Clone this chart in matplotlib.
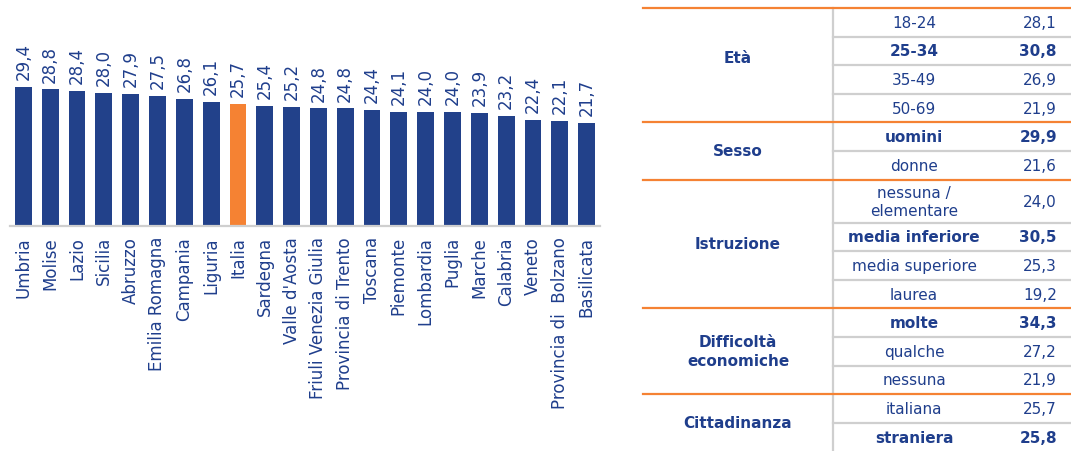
import matplotlib
matplotlib.use("Agg")
import matplotlib.pyplot as plt

plt.rcParams['font.family'] = ['DejaVu Sans']

# dati regionali
regioni = ['Umbria', 'Molise', 'Lazio', 'Sicilia', 'Abruzzo', 'Emilia Romagna',
           'Campania', 'Liguria', 'Italia', 'Sardegna', "Valle d'Aosta",
           'Friuli Venezia Giulia', 'Provincia di Trento', 'Toscana', 'Piemonte',
           'Lombardia', 'Puglia', 'Marche', 'Calabria', 'Veneto',
           'Provincia di  Bolzano', 'Basilicata']
valori = [29.4, 28.8, 28.4, 28.0, 27.9, 27.5, 26.8, 26.1, 25.7, 25.4, 25.2,
          24.8, 24.8, 24.4, 24.1, 24.0, 24.0, 23.9, 23.2, 22.4, 22.1, 21.7]

# tabella per caratteristiche
gruppi = ['Età', 'Sesso', 'Istruzione', 'Difficoltà\neconomiche', 'Cittadinanza']
voci = [['18-24', '25-34', '35-49', '50-69'],
        ['uomini', 'donne'],
        ['nessuna /\nelementare', 'media inferiore', 'media superiore', 'laurea'],
        ['molte', 'qualche', 'nessuna'],
        ['italiana', 'straniera']]
valori_tab = [[28.1, 30.8, 26.9, 21.9],
              [29.9, 21.6],
              [24.0, 30.5, 25.3, 19.2],
              [34.3, 27.2, 21.9],
              [25.7, 25.8]]
grassetto = ['25-34', 'uomini', 'media inferiore', 'molte', 'straniera']

BLU = '#22418A'
TESTO = '#1F3E8C'
ARANCIO = '#F58233'
GRIGIO = '#CFCFCF'

W, H = 1071, 451
fig = plt.figure(figsize=(W / 100, H / 100), dpi=100)

# --- grafico a barre ---
n = len(regioni)
base = 226
scala = 4.74  # px per unità
ymax = 40
ax = fig.add_axes([10 / W, (H - base) / H, 590 / W, ymax * scala / H])
colori = [ARANCIO if r == 'Italia' else BLU for r in regioni]
x = range(n)
bars = ax.bar(x, valori, width=0.63, color=colori)
ax.set_xlim(-0.5, n - 0.5)
ax.set_ylim(0, ymax)
for b, v in zip(bars, valori):
    ax.annotate(f'{v:.1f}'.replace('.', ','), (b.get_x() + b.get_width() / 2, v),
                xytext=(0, 5), textcoords='offset points', rotation=90,
                ha='center', va='bottom', color=TESTO, fontsize=12)
ax.set_xticks(list(x))
ax.set_xticklabels(regioni, rotation=90, color=TESTO, fontsize=12)
ax.tick_params(axis='x', length=0, pad=8)
ax.set_yticks([])
for s in ['top', 'left', 'right']:
    ax.spines[s].set_visible(False)
ax.spines['bottom'].set_color(GRIGIO)
ax.spines['bottom'].set_linewidth(1.6)

# --- tabella ---
tx = fig.add_axes([0, 0, 1, 1])
tx.set_xlim(0, W)
tx.set_ylim(H, 0)
tx.axis('off')

top = 8
h = 28.6
x_sep = 833
x_left = 643
tx.plot([x_sep, x_sep], [top, H], color=GRIGIO, lw=1.6)
y = top
for g, vs, vals in zip(gruppi, voci, valori_tab):
    y0 = y
    tx.plot([x_left, W], [y0, y0], color=ARANCIO, lw=1.6, zorder=3)
    for i, (v, val) in enumerate(zip(vs, vals)):
        rh = h * 1.5 if '\n' in v else h
        if i > 0:
            tx.plot([x_sep, W], [y, y], color=GRIGIO, lw=1.6)
        fw = 'bold' if v in grassetto else 'normal'
        tx.text(914, y + rh / 2 + 1, v, ha='center', va='center', color=TESTO,
                fontsize=11, fontweight=fw, linespacing=1.25)
        tx.text(1057, y + rh / 2 + 1, f'{val:.1f}'.replace('.', ','), ha='right',
                va='center', color=TESTO, fontsize=11, fontweight=fw)
        y += rh
    yc = (y0 + y) / 2 + 1
    if len(vs) == 4 and g == 'Età':
        yc -= 8  # nell'originale l'etichetta sta più in alto
    tx.text(738, yc, g, ha='center', va='center', color=TESTO,
            fontsize=11, fontweight='bold', linespacing=1.3)

fig.savefig('out.png', dpi=100)
